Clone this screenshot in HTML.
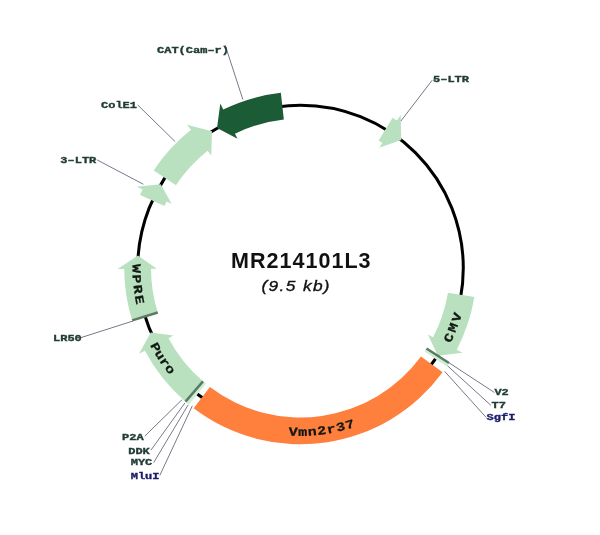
<!DOCTYPE html>
<html><head><meta charset="utf-8"><style>
html,body{margin:0;padding:0;background:#fff;width:600px;height:535px;overflow:hidden}
svg{display:block;will-change:transform}
.ft{font-family:"Liberation Mono",monospace;font-weight:bold;font-size:15px;text-anchor:middle;fill:#101810;stroke:#101810;stroke-width:0.3}
.lb{font-family:"Liberation Mono",monospace;font-weight:bold;font-size:12px;stroke-width:0.45}
.tt{font-family:"Liberation Sans",sans-serif;font-weight:bold;font-size:21.5px;fill:#111}
.st{font-family:"Liberation Sans",sans-serif;font-style:italic;font-size:15.3px;fill:#111;letter-spacing:1.2px;stroke:#111;stroke-width:0.35}
</style></head><body>
<svg width="600" height="535" viewBox="0 0 600 535">
<circle cx="300.50" cy="268.00" r="162.80" fill="none" stroke="#000" stroke-width="3"/>
<path d="M392.62,117.68 A176.30,176.30 0 0 1 397.04,120.48 L400.65,114.96 L401.30,139.91 L379.18,147.76 L382.36,142.90 A149.50,149.50 0 0 0 378.61,140.53 Z" fill="#b9e1bf"/>
<path d="M474.38,297.10 A176.30,176.30 0 0 1 456.74,349.68 L462.59,352.74 L437.82,355.82 L427.85,334.58 L432.99,337.26 A149.50,149.50 0 0 0 447.95,292.67 Z" fill="#b9e1bf"/>
<path d="M449.02,362.99 A176.30,176.30 0 0 1 446.66,366.59 L424.44,351.60 A149.50,149.50 0 0 0 426.45,348.55 Z" fill="#d0efd9"/>
<path d="M442.59,372.37 A176.30,176.30 0 0 1 193.66,408.24 L209.90,386.92 A149.50,149.50 0 0 0 420.99,356.51 Z" fill="#ff7f3c"/>
<path d="M189.07,404.62 A176.30,176.30 0 0 1 185.54,401.66 L203.01,381.34 A149.50,149.50 0 0 0 206.01,383.85 Z" fill="#d0efd9"/>
<path d="M185.54,401.66 A176.30,176.30 0 0 1 144.84,350.77 L139.01,353.87 L150.79,332.47 L173.62,335.46 L168.50,338.19 A149.50,149.50 0 0 0 203.01,381.34 Z" fill="#b9e1bf"/>
<path d="M132.18,320.43 A176.30,176.30 0 0 1 124.20,268.92 L117.60,268.96 L137.98,255.49 L156.80,268.75 L151.00,268.78 A149.50,149.50 0 0 0 157.76,312.46 Z" fill="#b9e1bf"/>
<path d="M140.07,194.89 A176.30,176.30 0 0 1 142.59,189.61 L136.67,186.68 L160.64,184.29 L171.79,204.11 L166.59,201.53 A149.50,149.50 0 0 0 164.46,206.00 Z" fill="#b9e1bf"/>
<path d="M153.66,170.44 A176.30,176.30 0 0 1 190.99,129.83 L186.89,124.66 L211.96,131.14 L211.24,155.38 L207.64,150.84 A149.50,149.50 0 0 0 175.98,185.27 Z" fill="#b9e1bf"/>
<path d="M280.85,92.80 A176.30,176.30 0 0 0 223.22,109.54 L220.32,103.61 L217.04,127.99 L237.51,138.84 L234.96,133.63 A149.50,149.50 0 0 1 283.84,119.43 Z" fill="#1b5b36"/>
<line x1="426.45" y1="348.55" x2="449.02" y2="362.99" stroke="#5c7c62" stroke-width="2.5"/>
<line x1="203.01" y1="381.34" x2="185.54" y2="401.66" stroke="#5c7c62" stroke-width="2.5"/>
<line x1="157.76" y1="312.46" x2="132.18" y2="320.43" stroke="#5c7c62" stroke-width="2.5"/>
<text transform="translate(448.62,337.70) rotate(295.20) scale(1,0.820)" y="4.94" class="ft">C</text>
<text transform="translate(452.97,327.60) rotate(291.35) scale(1,0.820)" y="4.94" class="ft">M</text>
<text transform="translate(456.62,317.23) rotate(287.50) scale(1,0.820)" y="4.94" class="ft">V</text>
<text transform="translate(293.07,431.63) rotate(362.60) scale(1,0.820)" y="4.94" class="ft">V</text>
<text transform="translate(302.64,431.79) rotate(359.25) scale(1,0.820)" y="4.94" class="ft">m</text>
<text transform="translate(312.21,431.38) rotate(355.90) scale(1,0.820)" y="4.94" class="ft">n</text>
<text transform="translate(321.74,430.42) rotate(352.55) scale(1,0.820)" y="4.94" class="ft">2</text>
<text transform="translate(331.19,428.90) rotate(349.20) scale(1,0.820)" y="4.94" class="ft">r</text>
<text transform="translate(340.54,426.83) rotate(345.85) scale(1,0.820)" y="4.94" class="ft">3</text>
<text transform="translate(349.76,424.22) rotate(342.50) scale(1,0.820)" y="4.94" class="ft">7</text>
<text transform="translate(155.77,347.24) rotate(421.30) scale(1,0.820)" y="4.94" class="ft">P</text>
<text transform="translate(160.17,354.78) rotate(418.27) scale(1,0.820)" y="4.94" class="ft">u</text>
<text transform="translate(164.96,362.09) rotate(415.23) scale(1,0.820)" y="4.94" class="ft">r</text>
<text transform="translate(170.12,369.13) rotate(412.20) scale(1,0.820)" y="4.94" class="ft">o</text>
<text transform="translate(136.60,268.57) rotate(449.80) scale(1,0.820)" y="4.94" class="ft">W</text>
<text transform="translate(136.97,278.96) rotate(446.17) scale(1,0.820)" y="4.94" class="ft">P</text>
<text transform="translate(137.99,289.30) rotate(442.53) scale(1,0.820)" y="4.94" class="ft">R</text>
<text transform="translate(139.67,299.55) rotate(438.90) scale(1,0.820)" y="4.94" class="ft">E</text>
<line x1="225.20" y1="45.20" x2="242.89" y2="99.58" stroke="#78788a" stroke-width="1"/>
<line x1="432.20" y1="80.20" x2="400.90" y2="121.02" stroke="#78788a" stroke-width="1"/>
<line x1="137.70" y1="105.00" x2="175.16" y2="141.61" stroke="#78788a" stroke-width="1"/>
<line x1="96.70" y1="159.70" x2="143.42" y2="184.27" stroke="#78788a" stroke-width="1"/>
<line x1="81.00" y1="337.60" x2="133.00" y2="321.00" stroke="#78788a" stroke-width="1"/>
<line x1="144.70" y1="436.20" x2="182.00" y2="399.70" stroke="#78788a" stroke-width="1"/>
<line x1="150.90" y1="450.20" x2="185.00" y2="402.80" stroke="#78788a" stroke-width="1"/>
<line x1="153.70" y1="462.60" x2="188.20" y2="404.80" stroke="#78788a" stroke-width="1"/>
<line x1="159.80" y1="475.40" x2="192.30" y2="405.90" stroke="#78788a" stroke-width="1"/>
<line x1="494.40" y1="392.50" x2="448.60" y2="362.50" stroke="#78788a" stroke-width="1"/>
<line x1="490.90" y1="405.30" x2="447.50" y2="365.80" stroke="#78788a" stroke-width="1"/>
<line x1="486.30" y1="417.60" x2="444.70" y2="371.40" stroke="#78788a" stroke-width="1"/>
<text transform="translate(157.00,52.70) scale(1,0.820)" class="lb" fill="#213c36" stroke="#213c36">CAT(Cam–r)</text>
<text transform="translate(433.00,82.20) scale(1,0.820)" class="lb" fill="#213c36" stroke="#213c36">5–LTR</text>
<text transform="translate(101.00,108.20) scale(1,0.820)" class="lb" fill="#213c36" stroke="#213c36">ColE1</text>
<text transform="translate(60.30,163.00) scale(1,0.820)" class="lb" fill="#213c36" stroke="#213c36">3–LTR</text>
<text transform="translate(53.00,341.10) scale(1,0.820)" class="lb" fill="#213c36" stroke="#213c36">LR50</text>
<text transform="translate(122.00,439.50) scale(1,0.820)" class="lb" fill="#213c36" stroke="#213c36">P2A</text>
<text transform="translate(128.20,453.50) scale(1,0.820)" class="lb" fill="#213c36" stroke="#213c36">DDK</text>
<text transform="translate(130.70,465.30) scale(1,0.820)" class="lb" fill="#213c36" stroke="#213c36">MYC</text>
<text transform="translate(130.70,478.80) scale(1,0.820)" class="lb" fill="#1c1c6c" stroke="#1c1c6c">MluI</text>
<text transform="translate(494.40,394.80) scale(1,0.820)" class="lb" fill="#213c36" stroke="#213c36">V2</text>
<text transform="translate(491.50,407.60) scale(1,0.820)" class="lb" fill="#213c36" stroke="#213c36">T7</text>
<text transform="translate(486.60,419.80) scale(1,0.820)" class="lb" fill="#1c1c6c" stroke="#1c1c6c">SgfI</text>
<text x="231" y="267.8" class="tt" textLength="139.5" lengthAdjust="spacing">MR214101L3</text>
<text x="261.5" y="290.9" class="st" textLength="69.5" lengthAdjust="spacingAndGlyphs">(9.5 kb)</text>
</svg>
</body></html>
